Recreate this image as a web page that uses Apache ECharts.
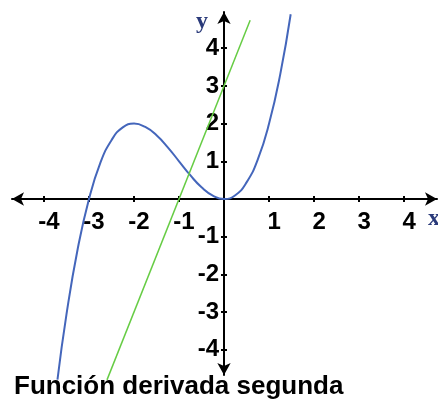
<!DOCTYPE html>
<html>
<head>
<meta charset="utf-8">
<script src="https://cdn.jsdelivr.net/npm/echarts@6/dist/echarts.min.js"></script>
<style>
  html, body { margin: 0; padding: 0; background: #fff; }
  #chart { width: 438px; height: 400px; }
</style>
</head>
<body>
<div id="chart"></div>
<script>
// 数据：点
var curveX = [-3.7, -3.5, -3.25, -3, -2.75, -2.5, -2.25, -2, -1.75, -1.5, -1.25, -1, -0.75, -0.5, -0.25, 0, 0.25, 0.5, 0.75, 1, 1.25, 1.48];
var curveY = [-4.79, -3.06, -1.32, 0, 0.95, 1.56, 1.9, 2, 1.91, 1.69, 1.37, 1, 0.63, 0.31, 0.09, 0, 0.1, 0.44, 1.05, 2, 3.32, 4.9];
var lineX = [-2.6, 0.58];
var lineY = [-4.8, 4.74];
var xTicks = [-4, -3, -2, -1, 1, 2, 3, 4];
var yTicks = [-4, -3, -2, -1, 1, 2, 3, 4];
var titleText = 'Función derivada segunda';

(function () {
  var myChart = echarts.init(document.getElementById('chart'));

  var curveData = curveX.map(function (x, i) { return [x, curveY[i]]; });
  var lineData = lineX.map(function (x, i) { return [x, lineY[i]]; });

  var labelFont = {
    color: '#000',
    fontFamily: 'Liberation Sans',
    fontWeight: 'bold',
    fontSize: 24
  };

  // 坐标轴移到 0 处（用 offset），两根叠加让刻度线两侧都有
  function xAxisOf(inside) {
    return {
      type: 'value',
      min: -4.71,
      max: 4.73,
      position: 'bottom',
      offset: -176,
      splitLine: { show: false },
      axisLine: {
        show: !inside,
        onZero: false,
        symbol: ['arrow', 'arrow'],
        symbolSize: [10, 12],
        lineStyle: { color: '#000', width: 2 }
      },
      axisTick: {
        show: true,
        inside: inside,
        length: 3,
        customValues: xTicks,
        lineStyle: { color: '#000', width: 2 }
      },
      axisLabel: inside ? { show: false } : Object.assign({
        customValues: xTicks,
        margin: 11,
        padding: [0, 0, 0, 10]
      }, labelFont)
    };
  }
  function yAxisOf(inside) {
    return {
      type: 'value',
      min: -4.67,
      max: 4.96,
      position: 'left',
      offset: -212,
      splitLine: { show: false },
      axisLine: {
        show: !inside,
        onZero: false,
        symbol: ['arrow', 'arrow'],
        symbolSize: [10, 12],
        lineStyle: { color: '#000', width: 2 }
      },
      axisTick: {
        show: true,
        inside: inside,
        length: 3,
        customValues: yTicks,
        lineStyle: { color: '#000', width: 2 }
      },
      axisLabel: inside ? { show: false } : Object.assign({
        customValues: yTicks,
        margin: 5
      }, labelFont)
    };
  }

  var option = {
    animation: false,
    title: {
      text: titleText,
      left: 14,
      top: 374,
      padding: 0,
      textStyle: {
        color: '#000',
        fontFamily: 'Liberation Sans',
        fontWeight: 'bold',
        fontSize: 26
      }
    },
    grid: {
      left: 12,
      top: 12,
      width: 425,
      height: 363,
      containLabel: false,
      outerBoundsMode: 'none'
    },
    xAxis: [xAxisOf(false), xAxisOf(true)],
    yAxis: [yAxisOf(false), yAxisOf(true)],
    graphic: [
      {
        type: 'text', left: 196, top: 10,
        style: { text: 'y', fill: '#2a3a7a', font: 'bold 24px "Liberation Serif"' }
      },
      {
        type: 'text', left: 428, top: 207,
        style: { text: 'x', fill: '#2a3a7a', font: 'bold 24px "Liberation Serif"' }
      }
    ],
    series: [
      {
        name: 'f',
        type: 'line',
        data: curveData,
        smooth: true,
        showSymbol: false,
        clip: false,
        z: 1,
        lineStyle: { color: '#4466bb', width: 2 }
      },
      {
        name: "f''",
        type: 'line',
        data: lineData,
        showSymbol: false,
        clip: false,
        z: 1,
        lineStyle: { color: '#66cc44', width: 1.5 }
      }
    ]
  };

  myChart.setOption(option);
  window.addEventListener('resize', function () {
    myChart.resize();
  });
})();
</script>
</body>
</html>
